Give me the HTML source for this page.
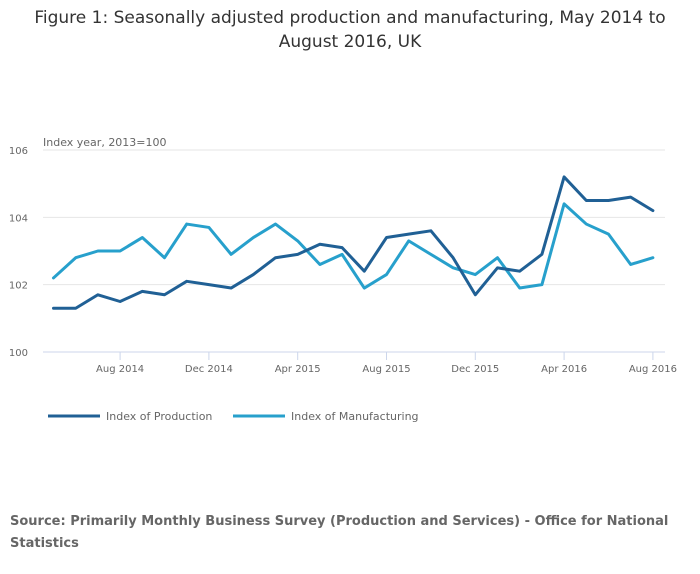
<!DOCTYPE html>
<html><head><meta charset="utf-8">
<style>
body{margin:0;background:#fff;font-family:"DejaVu Sans","Liberation Sans",sans-serif;}
#wrap{position:relative;width:700px;height:574px;overflow:hidden;}
.title{position:absolute;left:0;width:700px;top:6px;text-align:center;font-size:17px;color:#333;line-height:24px;}
.src{position:absolute;left:10px;top:511px;font-size:13px;font-weight:bold;color:#666;line-height:22px;width:660px;}
svg text{font-family:"DejaVu Sans","Liberation Sans",sans-serif;}
</style></head><body>
<div id="wrap">
<div class="title">Figure 1: Seasonally adjusted production and manufacturing, May 2014 to<br>August 2016, UK</div>
<svg id="chart" width="700" height="574" style="position:absolute;left:0;top:0"></svg>
<div class="src">Source: Primarily Monthly Business Survey (Production and Services) - Office for National Statistics</div>
</div>
<script>
const months = ["May 2014","Jun 2014","Jul 2014","Aug 2014","Sep 2014","Oct 2014","Nov 2014","Dec 2014","Jan 2015","Feb 2015","Mar 2015","Apr 2015","May 2015","Jun 2015","Jul 2015","Aug 2015","Sep 2015","Oct 2015","Nov 2015","Dec 2015","Jan 2016","Feb 2016","Mar 2016","Apr 2016","May 2016","Jun 2016","Jul 2016","Aug 2016"];
const production = [101.3,101.3,101.7,101.5,101.8,101.7,102.1,102.0,101.9,102.3,102.8,102.9,103.2,103.1,102.4,103.4,103.5,103.6,102.8,101.7,102.5,102.4,102.9,105.2,104.5,104.5,104.6,104.2];
const manufacturing = [102.2,102.8,103.0,103.0,103.4,102.8,103.8,103.7,102.9,103.4,103.8,103.3,102.6,102.9,101.9,102.3,103.3,102.9,102.5,102.3,102.8,101.9,102.0,104.4,103.8,103.5,102.6,102.8];
const yTicks = [100,102,104,106];
const xTickLabels = ["Aug 2014","Dec 2014","Apr 2015","Aug 2015","Dec 2015","Apr 2016","Aug 2016"];
const seriesNames = ["Index of Production","Index of Manufacturing"];

const NS="http://www.w3.org/2000/svg";
const svg=document.getElementById('chart');
const x0=53.5, step=22.2, yMin=100, yMax=106, yTop=150, yBot=352;
const xS=i=>x0+i*step;
const yS=v=>yBot-(v-yMin)/(yMax-yMin)*(yBot-yTop);
function mk(t,a){const e=document.createElementNS(NS,t);for(const k in a)e.setAttribute(k,a[k]);svg.appendChild(e);return e;}

yTicks.forEach(v=>{
  const l=mk('line',{x1:43,x2:665,y1:yS(v),y2:yS(v),stroke:v===yMin?'#ccd6eb':'#e6e6e6','stroke-width':1});
  
  
  const t=mk('text',{x:28,y:yS(v)+4,'font-size':10,fill:'#666','text-anchor':'end'});t.textContent=v;
  
  
});
const yt=mk('text',{x:43,y:146,'font-size':11,fill:'#666'});yt.textContent='Index year, 2013=100';



xTickLabels.forEach(lab=>{
  const i=months.indexOf(lab);const x=xS(i);
  const tk=mk('line',{x1:x,x2:x,y1:yBot,y2:yBot+8,stroke:'#ccd6eb'});
  
  
  const t=mk('text',{x:x,y:yBot+20,'font-size':10,fill:'#666','text-anchor':'middle'});t.textContent=lab;
  
  
});

function line(data,color,name){
  const p=mk('polyline',{points:data.map((v,i)=>xS(i)+','+yS(v)).join(' '),fill:'none',stroke:color,'stroke-width':3,'stroke-linejoin':'round','stroke-linecap':'round'});
  
  
}
line(manufacturing,'#27a0cc','manufacturing-line');
line(production,'#206095','production-line');

[[48,'#206095',seriesNames[0]],[233,'#27a0cc',seriesNames[1]]].forEach(([x,c,n],k)=>{
  const l=mk('line',{x1:x,x2:x+52,y1:416,y2:416,stroke:c,'stroke-width':3});
  
  
  const t=mk('text',{x:x+58,y:420,'font-size':11,fill:'#666'});t.textContent=n;
  
  
});
</script>
</body></html>
